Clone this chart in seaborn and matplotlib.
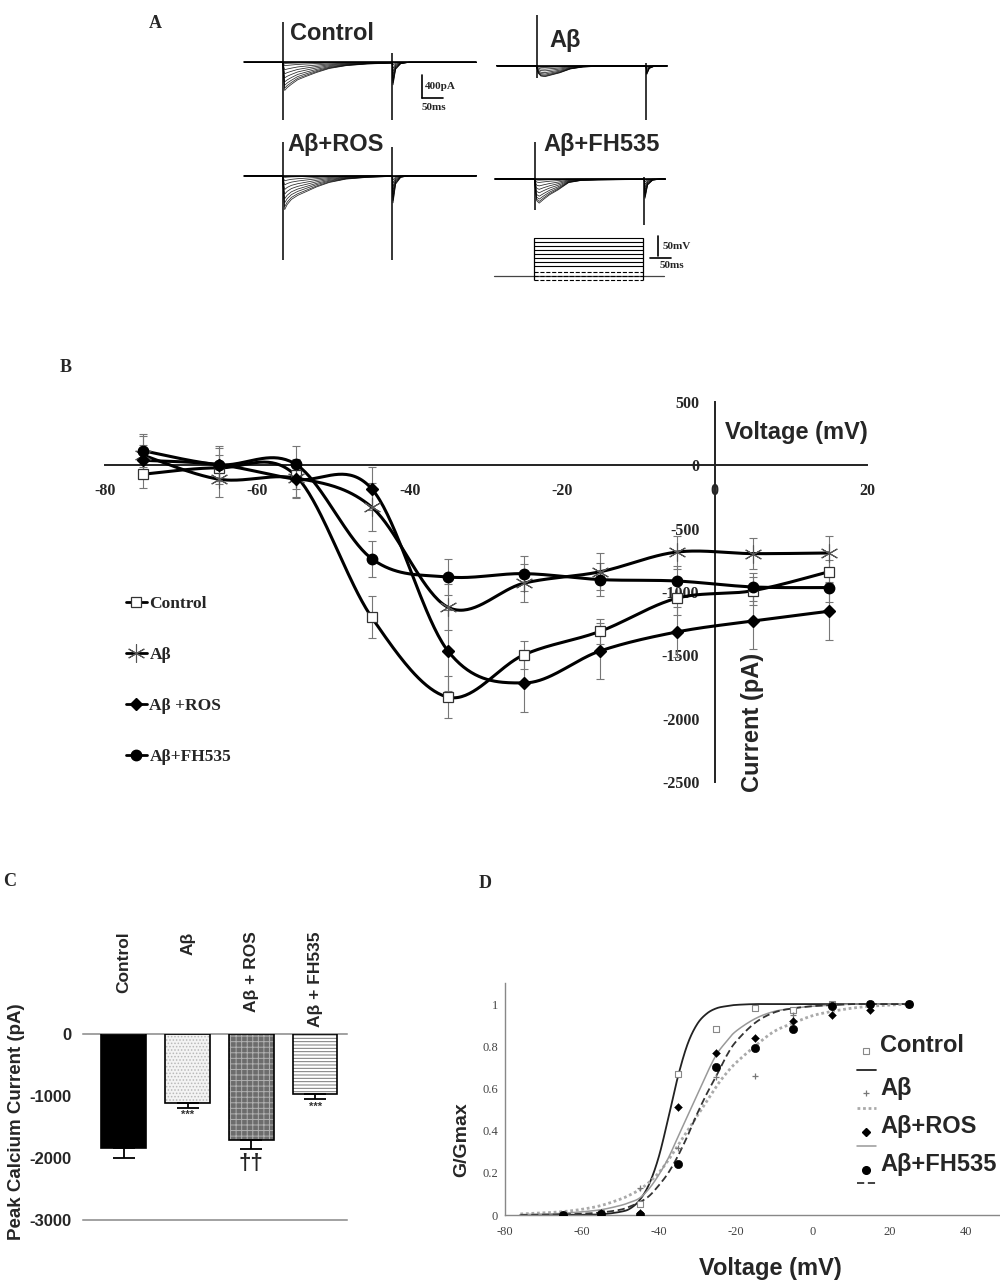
import numpy as np
import pandas as pd
import matplotlib
matplotlib.use("Agg")
import matplotlib.pyplot as plt
import matplotlib.transforms as mtransforms
from matplotlib.lines import Line2D
import seaborn as sns

# ======================= DATA =======================
# ---- Panel A : representative current traces ----
a_shape_t = [0, 4, 10, 20, 35, 55, 80, 110, 150, 200, 260]          # ms after step onset
a_shape = {
    "Control":  [0.2, 1.0, 0.9, 0.78, 0.62, 0.5, 0.36, 0.22, 0.12, 0.06, 0.03],
    "Aβ":       [0.2, 0.7, 0.95, 1.0, 0.85, 0.65, 0.3, 0.12, 0.05, 0.03, 0.02],
    "Aβ+ROS":   [0.3, 1.0, 0.85, 0.7, 0.58, 0.47, 0.33, 0.2, 0.1, 0.05, 0.02],
    "Aβ+FH535": [0.3, 0.9, 1.0, 0.85, 0.65, 0.45, 0.15, 0.06, 0.04, 0.03, 0.02],
}
a_peaks = {   # pA, one per voltage step
    "Control":  [0, 20, 60, 130, 200, 270, 340, 400, 450, 490],
    "Aβ":       [0, 10, 30, 60, 90, 120, 145, 165, 180, 190],
    "Aβ+ROS":   [0, 30, 90, 160, 240, 320, 400, 470, 540, 590],
    "Aβ+FH535": [0, 20, 60, 120, 180, 240, 300, 350, 390, 420],
}
a_tail_t = [262, 268, 280, 300]
a_tail_frac = [0.8, 0.25, 0.05, 0.0]
a_on_spike = {"Control": (700, -1000), "Aβ": (880, -220), "Aβ+ROS": (590, -1465), "Aβ+FH535": (650, -540)}
a_off_spike = {"Control": (160, -1000), "Aβ": (40, -945), "Aβ+ROS": (505, -1465), "Aβ+FH535": (30, -800)}
a_span = {"Control": (-92, 460), "Aβ": (-95, 310), "Aβ+ROS": (-92, 460), "Aβ+FH535": (-95, 310)}
pulse_ms = 260
prot_levels = [-90, -80, -70, -55, -45, -35, -25, -15, -5, 5, 15]   # mV
prot_hold = -80

# ---- Panel B : I-V relationship ----
b_volt = [-75, -65, -55, -45, -35, -25, -15, -5, 5, 15]
b_ctrl = [-70, -20, -80, -1200, -1830, -1495, -1310, -1050, -990, -840]
b_ab = [80, -110, -100, -330, -1120, -930, -840, -685, -697, -692]
b_ros = [40, 5, -110, -185, -1465, -1718, -1465, -1316, -1229, -1152]
b_fh = [115, 5, 10, -737, -881, -855, -902, -913, -960, -965]
b_ctrl_err = [110, 100, 110, 166, 166, 110, 100, 130, 110, 90]
b_ab_err = [150, 140, 150, 190, 180, 150, 145, 130, 125, 135]
b_ros_err = [120, 130, 150, 170, 320, 230, 220, 200, 218, 230]
b_fh_err = [130, 150, 140, 142, 145, 137, 130, 120, 110, 110]
b_xticks = [-80, -60, -40, -20, 0, 20]
b_yticks = [500, 0, -500, -1000, -1500, -2000, -2500]

# ---- Panel C : peak calcium current ----
c_groups = ["Control", "Aβ", "Aβ + ROS", "Aβ + FH535"]
c_values = [-1837, -1120, -1712, -975]
c_errors = [155, 70, 135, 75]
c_marks = ["", "***", "††", "***"]
c_yticks = [0, -1000, -2000, -3000]

# ---- Panel D : activation curves ----
d_fit_v = [-76, -70, -65, -60, -55, -50, -47.5, -45, -42.5, -40, -37.5, -35, -32.5, -30,
           -27.5, -25, -22.5, -20, -15, -10, -5, 0, 5, 10, 15, 20, 25]
d_fit_ctrl = [0, 0, 0, 0.001, 0.003, 0.015, 0.03, 0.07, 0.146, 0.275, 0.46, 0.656, 0.81, 0.905,
              0.955, 0.98, 0.99, 0.996, 1, 1, 1, 1, 1, 1, 1, 1, 1]
d_fit_ab = [0.005, 0.01, 0.016, 0.027, 0.045, 0.075, 0.095, 0.12, 0.155, 0.2, 0.26, 0.33, 0.40, 0.47,
            0.54, 0.61, 0.67, 0.72, 0.80, 0.87, 0.91, 0.945, 0.965, 0.98, 0.99, 0.995, 1.0]
d_fit_ros = [0.002, 0.004, 0.008, 0.015, 0.025, 0.045, 0.06, 0.08, 0.125, 0.19, 0.27, 0.37, 0.47, 0.57,
             0.67, 0.76, 0.82, 0.87, 0.93, 0.965, 0.98, 0.99, 0.995, 1, 1, 1, 1]
d_fit_fh = [0, 0.001, 0.003, 0.006, 0.012, 0.025, 0.04, 0.06, 0.09, 0.14, 0.2, 0.28, 0.375, 0.48,
            0.575, 0.66, 0.75, 0.82, 0.91, 0.96, 0.98, 0.99, 0.995, 1, 1, 1, 1]
d_pts_v = [-65, -55, -45, -35, -25, -15, -5, 5, 15, 25]
d_pts_ctrl = [0.0, 0.01, 0.05, 0.67, 0.88, 0.98, 0.97, 1.0, 1.0, 1.0]
d_pts_ab = [0.0, 0.01, 0.13, 0.32, 0.655, 0.66, 0.95, 0.98, 0.99, 1.0]
d_pts_ros = [0.0, 0.01, 0.01, 0.51, 0.77, 0.84, 0.92, 0.95, 0.97, 1.0]
d_pts_fh = [0.0, 0.005, 0.0, 0.24, 0.70, 0.79, 0.88, 0.99, 1.0, 1.0]
d_xticks = [-80, -60, -40, -20, 0, 20, 40]
d_yticks = [0, 0.2, 0.4, 0.6, 0.8, 1.0]
d_yticklabels = ["0", "0.2", "0.4", "0.6", "0.8", "1"]

# ======================= STYLE =======================
sns.set_style("white")
plt.rcParams["font.family"] = ["Liberation Sans", "DejaVu Sans"]
plt.rcParams["hatch.linewidth"] = 0.7
SERIF = ["Liberation Serif", "DejaVu Serif"]
SANS = ["Liberation Sans", "DejaVu Sans"]

W, H = 1000, 1288
fig = plt.figure(figsize=(W / 100, H / 100), dpi=100)
fig.patch.set_facecolor("white")


def fx(px):
    return px / W


def fy(py):
    return 1 - py / H


def ax_px(left, top, width, height):
    return fig.add_axes([left / W, 1 - (top + height) / H, width / W, height / H])


def smooth(x, y, sx, sy, n=40):
    """Excel-like smoothed line (cubic Bezier through the points)."""
    P = np.column_stack([np.asarray(x, float) * sx, np.asarray(y, float) * sy])
    out = [P[0]]
    for i in range(len(P) - 1):
        p0 = P[i - 1] if i > 0 else P[i]
        p1, p2 = P[i], P[i + 1]
        p3 = P[i + 2] if i + 2 < len(P) else P[i + 1]
        c1 = p1 + (p2 - p0) / 6.0
        c2 = p2 - (p3 - p1) / 6.0
        t = np.linspace(0, 1, n)[1:, None]
        seg = (1 - t) ** 3 * p1 + 3 * (1 - t) ** 2 * t * c1 + 3 * (1 - t) * t ** 2 * c2 + t ** 3 * p2
        out.extend(seg)
    out = np.array(out)
    return out[:, 0] / sx, out[:, 1] / sy


# ======================= PANEL A =======================
MS_PX = 2.38      # ms per pixel
PA_PX = 17.4      # pA per pixel
A_XL = (-100, 470)
A_YL = (-1550, 950)
a_origin = {"Control": (283, 62.3), "Aβ": (536.7, 65.7), "Aβ+ROS": (283, 175.7), "Aβ+FH535": (535, 179)}
a_title_pos = {"Control": (290, 33), "Aβ": (549, 41), "Aβ+ROS": (287, 145), "Aβ+FH535": (543, 144)}

for cond, (ox, oy) in a_origin.items():
    ax = ax_px(ox + A_XL[0] / MS_PX, oy - A_YL[1] / PA_PX,
               (A_XL[1] - A_XL[0]) / MS_PX, (A_YL[1] - A_YL[0]) / PA_PX)
    ax.set_xlim(*A_XL)
    ax.set_ylim(*A_YL)
    ax.axis("off")
    pre, post = a_span[cond]
    ax.plot([pre, post], [0, 0], color="k", lw=1.2)
    shp = np.array(a_shape[cond])
    for amp in a_peaks[cond]:
        t = np.r_[pre, -0.5, a_shape_t, a_tail_t, post]
        yv = np.r_[0, 0, -amp * shp, -amp * np.array(a_tail_frac), 0]
        ax.plot(t, yv, color="k", lw=0.55, alpha=0.85)
    up, dn = a_on_spike[cond]
    ax.vlines(0, dn, up, color="k", lw=1.1)
    up, dn = a_off_spike[cond]
    ax.vlines(pulse_ms, dn, up, color="k", lw=1.1)
    tx, ty = a_title_pos[cond]
    fig.text(fx(tx), fy(ty), cond, fontsize=17, fontweight="bold", va="center", ha="left", family=SANS)
    if cond == "Control":
        ax.plot([330, 330], [-221, -621], color="k", lw=1.2)
        ax.plot([330, 380], [-621, -621], color="k", lw=1.2)
        ax.text(338, -420, "400pA", fontsize=8, fontweight="bold", family=SERIF, va="center")
        ax.text(330, -700, "50ms", fontsize=8, fontweight="bold", family=SERIF, va="top")

# voltage protocol
MV_PX = 2.5
P_YL = (-100, 30)
pax = ax_px(534 + A_XL[0] / MS_PX, 275.7 - (P_YL[1] - prot_hold) / MV_PX,
            (A_XL[1] - A_XL[0]) / MS_PX, (P_YL[1] - P_YL[0]) / MV_PX)
pax.set_xlim(*A_XL)
pax.set_ylim(*P_YL)
pax.axis("off")
pax.plot([-95, 310], [prot_hold, prot_hold], color="#444", lw=0.9)
for i, lv in enumerate(prot_levels):
    pax.plot([0, pulse_ms], [lv, lv], color="k", lw=0.8, ls="--" if i < 3 else "-")
pax.vlines([0, pulse_ms], min(prot_levels), max(prot_levels), color="k", lw=0.9)
pax.plot([295, 295], [19, -31], color="k", lw=1.2)
pax.plot([276, 326], [-36, -36], color="k", lw=1.2)
pax.text(305, -6, "50mV", fontsize=8, fontweight="bold", family=SERIF, va="center")
pax.text(300, -42, "50ms", fontsize=8, fontweight="bold", family=SERIF, va="top")

# ======================= PANEL B =======================
axB = ax_px(105, 402, 762, 380)
axB.set_xlim(-80, 20)
axB.set_ylim(-2500, 500)
SX, SY = 7.62, 0.1267
b_series = [
    ("Control", b_ctrl, b_ctrl_err, dict(marker="s", markersize=6.5, markerfacecolor="white",
                                         markeredgecolor="#333", markeredgewidth=0.9)),
    ("Aβ", b_ab, b_ab_err, dict(marker=(6, 2, 0), markersize=13, markerfacecolor="none",
                                 markeredgecolor="#555", markeredgewidth=0.8)),
    ("Aβ +ROS", b_ros, b_ros_err, dict(marker="D", markersize=6.5, markerfacecolor="k",
                                       markeredgecolor="k")),
    ("Aβ+FH535", b_fh, b_fh_err, dict(marker="o", markersize=7.5, markerfacecolor="k",
                                      markeredgecolor="k")),
]
handles = []
for name, vals, err, mk in b_series:
    sxv, syv = smooth(b_volt, vals, SX, SY)
    sns.lineplot(x=sxv, y=syv, ax=axB, color="k", lw=2.2, sort=False, estimator=None, zorder=3)
    axB.errorbar(b_volt, vals, yerr=err, fmt="none", ecolor="#777", elinewidth=0.8,
                 capsize=3, capthick=0.8, zorder=2)
    axB.plot(b_volt, vals, ls="none", zorder=4, **mk)
    handles.append(Line2D([], [], color="k", lw=2.0, **mk))

for side in ["top", "right"]:
    axB.spines[side].set_visible(False)
axB.spines["left"].set_position(("data", 0))
axB.spines["bottom"].set_position(("data", 0))
for side in ["left", "bottom"]:
    axB.spines[side].set_linewidth(1.4)
    axB.spines[side].set_color("#222")
axB.set_xticks(b_xticks)
axB.set_yticks(b_yticks)
axB.set_xticklabels([str(v) for v in b_xticks])
axB.set_yticklabels([str(v) for v in b_yticks])
axB.tick_params(axis="both", direction="out", length=5, width=1.2, color="#222")
axB.tick_params(axis="x", pad=8)
axB.tick_params(axis="y", pad=6)
for lab in axB.get_xticklabels() + axB.get_yticklabels():
    lab.set_family(SERIF)
    lab.set_fontweight("bold")
    lab.set_fontsize(11.5)
axB.set_xlabel("")
axB.set_ylabel("")
fig.text(fx(725), fy(432), "Voltage (mV)", fontsize=17, fontweight="bold", va="center", ha="left")
fig.text(fx(752), fy(722), "Current (pA)", fontsize=17, fontweight="bold", va="center",
         ha="center", rotation=90)
axB.legend(handles, [s[0] for s in b_series], loc="upper left",
           bbox_to_anchor=(fx(126), fy(596)), bbox_transform=fig.transFigure,
           frameon=False, handlelength=1.2, handletextpad=0.15, labelspacing=2.0,
           borderpad=0, borderaxespad=0, numpoints=1,
           prop=dict(family=SERIF, weight="bold", size=12.5))

# ======================= PANEL C =======================
axC = ax_px(83, 1034, 264, 186)
dfC = pd.DataFrame({"group": c_groups, "value": c_values})
sns.barplot(data=dfC, x="group", y="value", order=c_groups, ax=axC, width=0.7,
            errorbar=None, color="k", saturation=1)
c_face = ["black", "#f3f3f3", "#6c6c6c", "white"]
c_hatch = [None, ".....", "+++", "-----"]
c_hcol = ["black", "#b8b8b8", "#b0b0b0", "#777777"]
for p, fc, hh, hc in zip(axC.patches, c_face, c_hatch, c_hcol):
    p.set_facecolor(fc)
    p.set_edgecolor(hc)
    p.set_linewidth(0)
    if hh:
        p.set_hatch(hh)
xC = np.arange(len(c_groups))
axC.bar(xC, c_values, width=0.7, fill=False, edgecolor="k", linewidth=1.2, zorder=3)
axC.errorbar(xC, c_values, yerr=[c_errors, [0] * len(c_errors)], fmt="none", ecolor="k",
             elinewidth=1.3, capsize=8, capthick=1.3, zorder=4)
axC.set_xlim(-0.64, 3.5)
axC.set_ylim(-3000, 0)
axC.set_xlabel("")
axC.set_ylabel("")
axC.set_xticks(xC)
axC.set_xticklabels([])
axC.set_yticks(c_yticks)
axC.set_yticklabels([str(v) for v in c_yticks], fontsize=12, fontweight="bold")
axC.spines["left"].set_visible(False)
axC.spines["right"].set_visible(False)
for side in ["top", "bottom"]:
    axC.spines[side].set_color("#888")
    axC.spines[side].set_linewidth(1.1)
axC.tick_params(axis="y", direction="out", length=5, width=1.1, color="#666", pad=3)
axC.tick_params(axis="x", direction="out", length=3, width=0.9, color="#666")
trC = mtransforms.blended_transform_factory(axC.transData, axC.transAxes)
for i, g in enumerate(c_groups):
    axC.text(i, 1.55, g, rotation=90, ha="center", va="top", fontsize=12.5,
             fontweight="bold", transform=trC)
for i, (m, v, e) in enumerate(zip(c_marks, c_values, c_errors)):
    if m == "***":
        axC.text(i, v - e - 40, m, ha="center", va="top", fontsize=8, fontweight="bold", color="#333")
    elif m:
        axC.text(i, v - e - 70, m, ha="center", va="top", fontsize=16, fontweight="bold")
fig.text(fx(17), fy(1122), "Peak Calcium Current (pA)", rotation=90, fontsize=13.5,
         fontweight="bold", ha="center", va="center")

# ======================= PANEL D =======================
axD = ax_px(505, 983, 495, 232)
axD.set_xlim(-80, 48.8)
axD.set_ylim(0, 1.1)
fits = [
    (d_fit_ctrl, dict(color="#222", lw=1.3, ls="-")),
    (d_fit_ab, dict(color="#aaaaaa", lw=2.0, ls=(0, (1, 1)))),
    (d_fit_ros, dict(color="#999999", lw=1.1, ls="-")),
    (d_fit_fh, dict(color="#333", lw=1.3, ls=(0, (4, 2)))),
]
for yv, st in fits:
    sxv, syv = smooth(d_fit_v, yv, 3.84, 211.0)
    sns.lineplot(x=sxv, y=syv, ax=axD, sort=False, estimator=None, **st)
sns.scatterplot(x=d_pts_v, y=d_pts_ctrl, ax=axD, marker="s", s=18, facecolor="white",
                edgecolor="#888", linewidth=0.8, zorder=5)
sns.scatterplot(x=d_pts_v, y=d_pts_ab, ax=axD, marker="+", s=25, color="#777",
                linewidth=0.9, zorder=5)
sns.scatterplot(x=d_pts_v, y=d_pts_ros, ax=axD, marker="D", s=16, color="k",
                edgecolor="k", zorder=5)
sns.scatterplot(x=d_pts_v, y=d_pts_fh, ax=axD, marker="o", s=35, color="k",
                edgecolor="k", zorder=5)
axD.set_xlabel("")
axD.set_ylabel("")
axD.set_xticks(d_xticks)
axD.set_xticklabels([str(v) for v in d_xticks])
axD.set_yticks(d_yticks)
axD.set_yticklabels(d_yticklabels)
for side in ["top", "right"]:
    axD.spines[side].set_visible(False)
for side in ["left", "bottom"]:
    axD.spines[side].set_color("#888")
    axD.spines[side].set_linewidth(1.0)
axD.tick_params(axis="x", direction="in", length=5, width=0.9, color="#888", pad=8)
axD.tick_params(axis="y", direction="out", length=3, width=0.9, color="#888", pad=2)
for lab in axD.get_xticklabels() + axD.get_yticklabels():
    lab.set_family(SERIF)
    lab.set_fontsize(9)
    lab.set_color("#444")
fig.text(fx(770), fy(1268), "Voltage (mV)", fontsize=17, fontweight="bold", ha="center", va="center")
fig.text(fx(462), fy(1140), "G/Gmax", fontsize=14, fontweight="bold", rotation=90,
         ha="center", va="center")

# legend of panel D
d_leg = [
    ("Control", 1046, dict(marker="s", ms=4.5, mfc="white", mec="#888", mew=0.8), 1070,
     dict(color="#222", lw=1.3, ls="-")),
    ("Aβ", 1088, dict(marker="+", ms=5, mec="#777", mew=0.9), 1108,
     dict(color="#aaaaaa", lw=2.0, ls=(0, (1, 1)))),
    ("Aβ+ROS", 1127, dict(marker="D", ms=4, mfc="k", mec="k"), 1146,
     dict(color="#999999", lw=1.1, ls="-")),
    ("Aβ+FH535", 1165, dict(marker="o", ms=5.5, mfc="k", mec="k"), 1183,
     dict(color="#333", lw=1.3, ls=(0, (4, 2)))),
]
for lab, ty, mk, ly, ls in d_leg:
    fig.add_artist(Line2D([fx(866)], [fy(ty + 5)], ls="none", **mk))
    fig.text(fx(880), fy(ty), lab, fontsize=17, fontweight="bold", ha="left", va="center")
    fig.add_artist(Line2D([fx(857), fx(876)], [fy(ly), fy(ly)], **ls))

# ======================= PANEL LETTERS =======================
for letter, (px, py) in {"A": (155, 23), "B": (66, 368), "C": (10, 881), "D": (485, 883)}.items():
    fig.text(fx(px), fy(py), letter, fontsize=13, fontweight="bold", family=SERIF,
             ha="center", va="center")

fig.savefig("out.png", dpi=100, facecolor="white")
